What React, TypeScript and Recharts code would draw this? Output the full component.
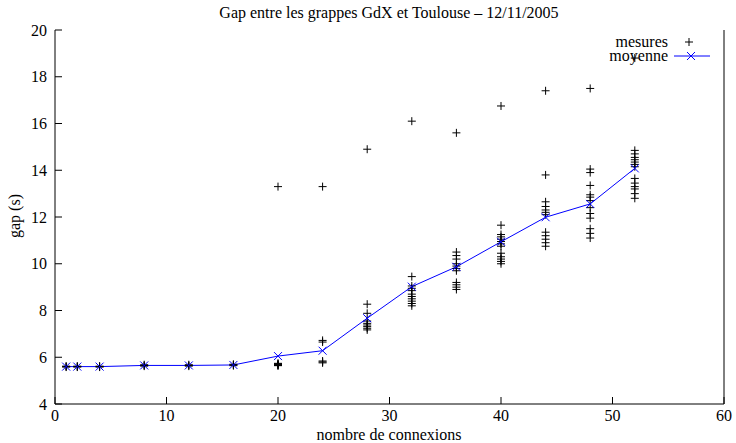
import React from 'react';
import { ComposedChart, Line, Scatter, XAxis, YAxis } from 'recharts';

const titre = 'Gap entre les grappes GdX et Toulouse – 12/11/2005';
const labelX = 'nombre de connexions';
const labelY = 'gap (s)';

const xTicks = [0, 10, 20, 30, 40, 50, 60];
const yTicks = [4, 6, 8, 10, 12, 14, 16, 18, 20];

const nbConnexions = [1, 2, 4, 8, 12, 16, 20, 24, 28, 32, 36, 40, 44, 48, 52];
const moyenne = [5.6, 5.6, 5.6, 5.65, 5.65, 5.67, 6.05, 6.28, 7.67, 9.02, 9.87, 10.94, 11.99, 12.56, 14.08];

// mesures brutes, une liste par nombre de connexions
const mesures = [
  [5.58, 5.6, 5.62],
  [5.58, 5.6, 5.62],
  [5.58, 5.6, 5.62],
  [5.62, 5.65, 5.68],
  [5.62, 5.65, 5.68],
  [5.64, 5.67, 5.7],
  [13.3, 5.74, 5.72, 5.7, 5.68, 5.66, 5.65, 5.64],
  [13.3, 6.72, 6.65, 5.84, 5.8, 5.76],
  [14.9, 8.27, 7.88, 7.55, 7.45, 7.38, 7.31, 7.24, 7.17],
  [16.1, 9.45, 9.05, 8.95, 8.85, 8.7, 8.6, 8.5, 8.4, 8.3, 8.2],
  [15.6, 10.5, 10.35, 10.2, 10.0, 9.9, 9.8, 9.7, 9.2, 9.1, 9.0, 8.9],
  [16.75, 11.65, 11.25, 11.15, 11.05, 10.95, 10.85, 10.75, 10.45, 10.3, 10.2, 10.1, 10.0],
  [17.4, 13.8, 12.65, 12.45, 12.3, 12.2, 12.1, 11.35, 11.2, 11.05, 10.9, 10.75],
  [17.5, 14.05, 13.9, 13.35, 12.95, 12.85, 12.7, 12.4, 12.15, 11.95, 11.5, 11.3, 11.1],
  [18.8, 14.85, 14.7, 14.55, 14.45, 14.35, 14.25, 14.15, 13.65, 13.45, 13.3, 13.2, 13.0, 12.8],
];

const moyenneData = nbConnexions.map((x, i) => ({ x, y: moyenne[i] }));
const mesuresData = nbConnexions.flatMap((x, i) => mesures[i].map((y) => ({ x, y })));

const FONT = "'Liberation Serif', 'Times New Roman', serif";
const FS = 16;
const BLUE = '#0000ff';
const TICK = 7;

const Plus = (props: any) => {
  const { cx, cy } = props;
  if (cx == null || cy == null) return null;
  return (
    <path d={`M${cx - 4},${cy}H${cx + 4}M${cx},${cy - 4}V${cy + 4}`} stroke="#000" strokeWidth={1} fill="none" />
  );
};

const Cross = (props: any) => {
  const { cx, cy } = props;
  if (cx == null || cy == null) return null;
  return (
    <path
      key={`c-${cx}`}
      d={`M${cx - 4},${cy - 4}L${cx + 4},${cy + 4}M${cx - 4},${cy + 4}L${cx + 4},${cy - 4}`}
      stroke={BLUE}
      strokeWidth={1}
      fill="none"
    />
  );
};

const BottomTick = ({ x, y, payload }: any) => (
  <g>
    <line x1={x} x2={x} y1={y - 4} y2={y - 4 - TICK} stroke="#000" />
    <text x={x} y={y} dy="0.8em" textAnchor="middle" style={{ fontFamily: FONT, fontSize: FS }} fill="#000">
      {payload.value}
    </text>
  </g>
);

const TopTick = ({ x, y }: any) => <line x1={x} x2={x} y1={y} y2={y + TICK} stroke="#000" />;

const LeftTick = ({ x, y, payload }: any) => (
  <g>
    <line x1={x + 8} x2={x + 8 + TICK} y1={y} y2={y} stroke="#000" />
    <text x={x} y={y} dy="0.35em" textAnchor="end" style={{ fontFamily: FONT, fontSize: FS }} fill="#000">
      {payload.value}
    </text>
  </g>
);

const RightTick = ({ x, y }: any) => <line x1={x} x2={x - TICK} y1={y} y2={y} stroke="#000" />;

export default function App() {
  return (
    <div style={{ position: 'absolute', left: 0, top: 0, width: 736, height: 443, background: '#fff' }}>
      <ComposedChart width={736} height={443} margin={{ top: 30, right: 0, bottom: 0, left: 0 }}>
        <XAxis
          xAxisId={0}
          dataKey="x"
          type="number"
          domain={[0, 60]}
          ticks={xTicks}
          interval={0}
          height={39}
          tickSize={0}
          tickMargin={4}
          tickLine={false}
          tick={<BottomTick />}
          axisLine={{ stroke: '#000' }}
        />
        <XAxis
          xAxisId="top"
          orientation="top"
          type="number"
          domain={[0, 60]}
          ticks={xTicks}
          interval={0}
          height={0}
          tickSize={0}
          tickMargin={0}
          tickLine={false}
          tick={<TopTick />}
          axisLine={{ stroke: '#000' }}
        />
        <YAxis
          yAxisId={0}
          dataKey="y"
          type="number"
          domain={[4, 20]}
          ticks={yTicks}
          interval={0}
          width={55}
          tickSize={0}
          tickMargin={8}
          tickLine={false}
          tick={<LeftTick />}
          axisLine={{ stroke: '#000' }}
        />
        <YAxis
          yAxisId="right"
          orientation="right"
          type="number"
          domain={[4, 20]}
          ticks={yTicks}
          interval={0}
          width={12}
          tickSize={0}
          tickMargin={0}
          tickLine={false}
          tick={<RightTick />}
          axisLine={{ stroke: '#000' }}
        />
        <Scatter data={mesuresData} dataKey="y" shape={<Plus />} isAnimationActive={false} />
        <Line
          data={moyenneData}
          dataKey="y"
          type="linear"
          stroke={BLUE}
          strokeWidth={1}
          dot={<Cross />}
          activeDot={false}
          isAnimationActive={false}
        />
      </ComposedChart>
      <svg
        width={736}
        height={443}
        style={{ position: 'absolute', left: 0, top: 0, pointerEvents: 'none', fontFamily: FONT, fontSize: FS }}
      >
        <text x={389} y={18} textAnchor="middle" fill="#000">{titre}</text>
        <text x={389} y={440} textAnchor="middle" fill="#000">{labelX}</text>
        <text x={20} y={216} textAnchor="middle" fill="#000" transform="rotate(-90 20 216)">{labelY}</text>
        <text x={668} y={47} textAnchor="end" fill="#000">mesures</text>
        <path d="M685,42H693M689,38V46" stroke="#000" fill="none" />
        <text x={668} y={61} textAnchor="end" fill="#000">moyenne</text>
        <path d="M674,56H710" stroke={BLUE} fill="none" />
        <path d="M687,52L695,60M687,60L695,52" stroke={BLUE} fill="none" />
      </svg>
    </div>
  );
}
